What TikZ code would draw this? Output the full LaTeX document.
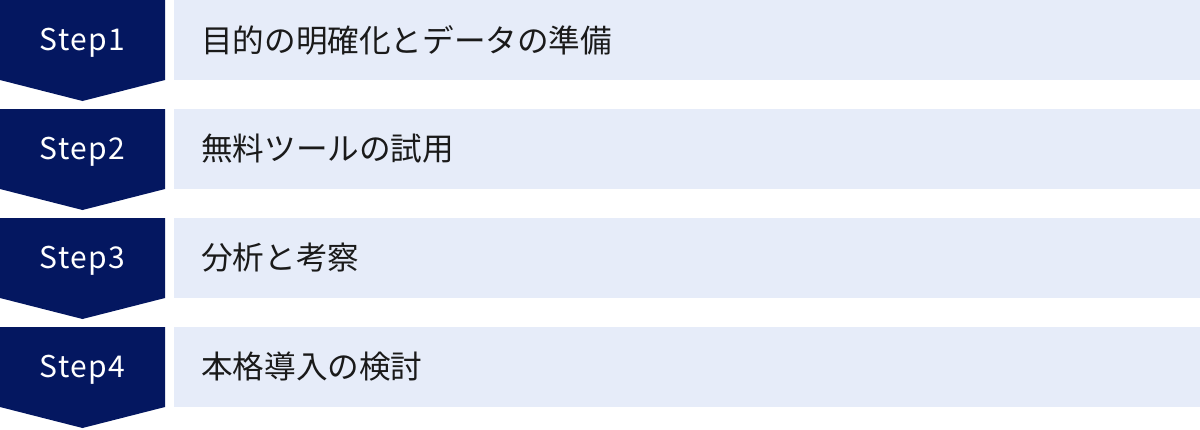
\documentclass[tikz,border=0pt]{standalone}
\usepackage{fontspec}
\setmainfont{Noto Sans CJK JP}
\newfontfamily\jpfont{Noto Sans CJK JP}
\definecolor{navy}{RGB}{4,23,96}
\definecolor{lightbox}{RGB}{230,236,249}
\definecolor{txt}{RGB}{26,26,26}
\tikzset{
  stepshape/.style={fill=navy, draw=none},
  stepbox/.style={fill=lightbox, draw=none},
  steplabel/.style={text=white, font=\jpfont\fontsize{30}{32}\selectfont, inner sep=0pt, anchor=center},
  tasklabel/.style={text=txt, font=\jpfont\fontsize{31.6}{36}\selectfont, inner sep=0pt, anchor=west}
}
\begin{document}
\begin{tikzpicture}[x=1pt,y=-1pt]
\useasboundingbox (0,0) rectangle (1200,429);
\foreach \i/\lab/\task in {0/Step1/目的の明確化とデータの準備, 1/Step2/無料ツールの試用, 2/Step3/分析と考察, 3/Step4/本格導入の検討}{
  \pgfmathsetmacro{\t}{109*\i}
  \fill[stepshape] (0,\t) -- (165,\t) -- (165,\t+80) -- (82.5,\t+101) -- (0,\t+80) -- cycle;
  \fill[stepbox] (174,\t) rectangle (1200,\t+80);
  \node[steplabel] (s\i) at (82.5,\t+42.5) {\addfontfeature{LetterSpace=5}\lab};
  \node[tasklabel] (t\i) at (201,\t+40) {\task};
}
\end{tikzpicture}
\end{document}
